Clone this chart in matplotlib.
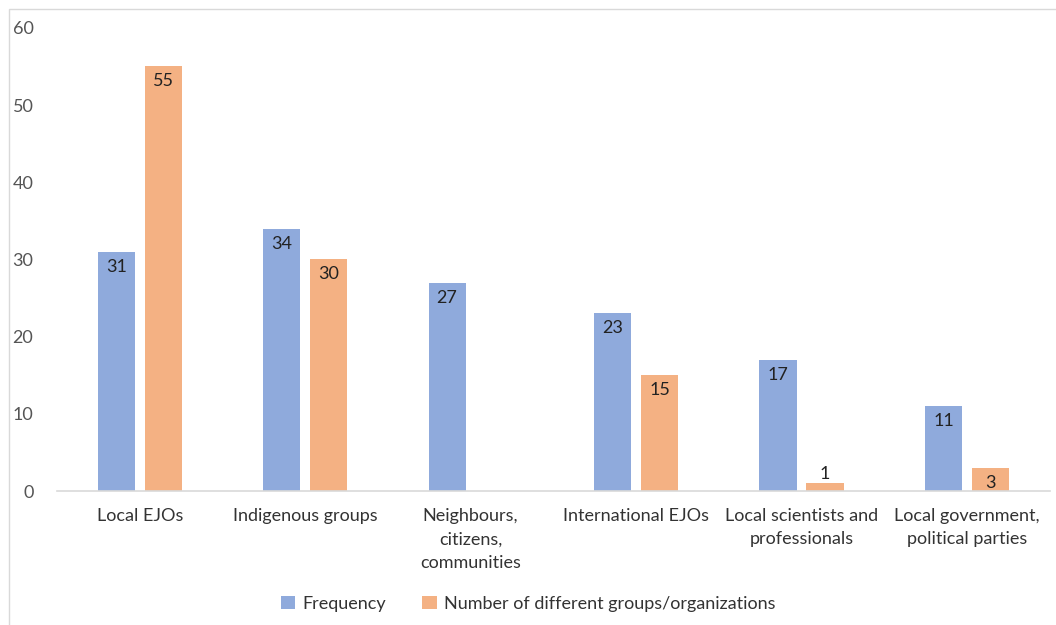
import matplotlib.pyplot as plt
import matplotlib.patches as mpatches
import numpy as np

categories = ["Local EJOs", "Indigenous groups", "Neighbours,\ncitizens,\ncommunities",
              "International EJOs", "Local scientists and\nprofessionals",
              "Local government,\npolitical parties"]
frequency = [31, 34, 27, 23, 17, 11]
n_groups = [55, 30, np.nan, 15, 1, 3]

blue = "#8FAADC"
orange = "#F4B183"

plt.rcParams['font.family'] = ['Lato', 'DejaVu Sans']

fig = plt.figure(figsize=(10.56, 6.25), dpi=100)
ax = fig.add_axes([0.054, 0.2144, 0.94, 0.741])

x = np.arange(len(categories))
w = 0.224
off = 0.142
b1 = ax.bar(x - off, frequency, w, color=blue, label="Frequency")
b2 = ax.bar(x + off, n_groups, w, color=orange, label="Number of different groups/organizations")

for bars, vals in [(b1, frequency), (b2, n_groups)]:
    for rect, v in zip(bars, vals):
        if np.isnan(v):
            continue
        cx = rect.get_x() + rect.get_width() / 2
        if v < 2:
            ax.annotate(f"{v:g}", (cx, v), xytext=(0, 1), textcoords="offset points",
                        ha="center", va="bottom", fontsize=13, color="#222222")
        else:
            ax.annotate(f"{v:g}", (cx, v), xytext=(0, -5), textcoords="offset points",
                        ha="center", va="top", fontsize=13, color="#222222")

ax.set_xlim(-0.5, len(categories) - 0.5)
ax.set_ylim(0, 60)
ax.set_yticks(range(0, 61, 10))
ax.set_xticks(x)
ax.set_xticklabels(categories, fontsize=13, color="#333333", linespacing=1.6)
ax.tick_params(axis="y", length=0, labelsize=13, labelcolor="#555555", pad=17)
ax.tick_params(axis="x", length=0, pad=12)
for s in ["top", "right", "left"]:
    ax.spines[s].set_visible(False)
ax.spines["bottom"].set_color("#D9D9D9")
ax.spines["bottom"].set_linewidth(1.2)

fig.legend(handles=[b1, b2], loc="center", bbox_to_anchor=(0.5, 0.034), ncol=2,
           frameon=False, fontsize=13, handlelength=0.8, handleheight=0.8,
           columnspacing=2.0, handletextpad=0.4, labelcolor="#333333")

fig.patches.append(mpatches.Rectangle((9 / 1056, -0.1), 1.2, 1 - 9 / 625 + 0.1,
                                      transform=fig.transFigure, fill=False,
                                      edgecolor="#D9D9D9", linewidth=1))

fig.savefig("out.png", dpi=100)
